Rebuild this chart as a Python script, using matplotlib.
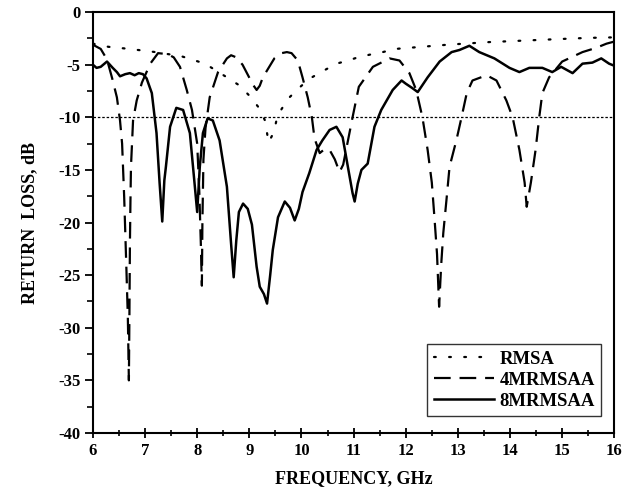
import numpy as np
import matplotlib
matplotlib.use("Agg")
import matplotlib.pyplot as plt

# RMSA (dotted)
rmsa_f = [6.0, 6.3, 6.7, 7.2, 7.7, 8.15, 8.57, 8.82, 9.03, 9.2, 9.3, 9.37, 9.47,
          9.52, 9.62, 9.77, 10.0, 10.2, 10.45, 10.67, 10.9, 11.08, 11.35, 11.56,
          11.8, 12.3, 12.8, 13.6, 14.3, 15.0, 15.5, 16.0]
rmsa_db = [-3.0, -3.3, -3.5, -3.8, -4.2, -4.9, -6.2, -7.0, -8.1, -9.2, -10.3, -12.4,
           -11.4, -10.3, -9.2, -8.1, -7.0, -6.2, -5.5, -4.9, -4.6, -4.3, -4.0, -3.8,
           -3.5, -3.3, -3.1, -2.85, -2.7, -2.55, -2.45, -2.4]

# 4MRMSAA (dashed)
m4_f = [6.0, 6.15, 6.27, 6.37, 6.46, 6.52, 6.56, 6.6, 6.64, 6.67, 6.69, 6.70, 6.71,
        6.72, 6.73, 6.77, 6.84, 6.94, 7.1, 7.25, 7.44, 7.55, 7.67, 7.8, 7.9, 8.0,
        8.04, 8.07, 8.09, 8.10, 8.12, 8.16, 8.24, 8.4, 8.57, 8.65, 8.75, 8.87, 9.07,
        9.14, 9.2, 9.26, 9.48, 9.62, 9.72, 9.81, 9.93, 10.02, 10.12, 10.2, 10.25,
        10.35, 10.45, 10.54, 10.64, 10.73, 10.8, 10.9, 10.98, 11.1, 11.37, 11.69,
        11.88, 12.07, 12.2, 12.32, 12.42, 12.5, 12.55, 12.6, 12.64, 12.68, 12.72,
        12.78, 12.84, 12.97, 13.07, 13.17, 13.28, 13.55, 13.74, 13.93, 14.05, 14.18,
        14.28, 14.32, 14.4, 14.49, 14.56, 14.62, 14.75, 15.0, 15.39, 15.65, 15.85, 16.0]
m4_db = [-3.1, -3.5, -4.5, -6.3, -8.1, -10.3, -12.5, -17.6, -24.0, -29.0, -35.0, -29.0,
         -22.0, -18.0, -14.7, -10.3, -8.4, -6.7, -4.9, -3.9, -4.0, -4.3, -5.2, -7.4,
         -9.3, -12.5, -17.0, -22.0, -26.0, -20.0, -14.0, -11.0, -8.1, -5.7, -4.4, -4.1,
         -4.3, -5.0, -6.9, -7.4, -7.0, -6.2, -4.4, -3.9, -3.8, -3.9, -4.6, -6.2, -8.1,
         -10.0, -12.0, -13.4, -13.0, -13.1, -14.0, -15.2, -14.5, -12.0, -10.0, -7.1,
         -5.2, -4.4, -4.6, -5.8, -7.4, -10.0, -13.1, -16.2, -19.5, -23.0, -28.0, -24.0,
         -21.0, -17.9, -14.7, -12.2, -10.0, -7.7, -6.5, -6.0, -6.5, -8.4, -10.0, -13.1,
         -16.2, -18.5, -16.2, -13.1, -10.0, -7.7, -6.2, -4.7, -3.8, -3.4, -3.0, -2.8]

# 8MRMSAA (solid)
m8_f = [6.0, 6.07, 6.15, 6.27, 6.38, 6.46, 6.52, 6.62, 6.71, 6.8, 6.88, 6.96, 7.03,
        7.13, 7.22, 7.28, 7.33, 7.37, 7.4, 7.48, 7.6, 7.73, 7.86, 7.95, 8.0, 8.05,
        8.11, 8.2, 8.3, 8.43, 8.57, 8.65, 8.7, 8.75, 8.8, 8.88, 8.97, 9.05, 9.14, 9.2,
        9.28, 9.34, 9.4, 9.45, 9.55, 9.68, 9.78, 9.87, 9.95, 10.02, 10.15, 10.29, 10.4,
        10.54, 10.67, 10.79, 10.89, 10.98, 11.02, 11.08, 11.15, 11.27, 11.4, 11.53,
        11.75, 11.92, 12.0, 12.12, 12.23, 12.42, 12.65, 12.88, 13.03, 13.22, 13.41,
        13.7, 13.99, 14.18, 14.37, 14.62, 14.81, 14.98, 15.2, 15.39, 15.58, 15.75,
        15.9, 16.0]
m8_db = [-5.0, -5.3, -5.2, -4.7, -5.3, -5.7, -6.1, -5.9, -5.8, -6.0, -5.8, -5.9, -6.3,
         -7.7, -11.5, -16.3, -19.9, -16.0, -14.7, -10.9, -9.1, -9.3, -11.5, -16.3,
         -19.0, -14.7, -11.5, -10.1, -10.3, -12.2, -16.6, -22.0, -25.2, -21.7, -19.0,
         -18.2, -18.7, -20.2, -24.2, -26.1, -26.8, -27.7, -25.0, -22.6, -19.5, -18.0,
         -18.6, -19.8, -18.7, -17.1, -15.3, -13.1, -12.2, -11.2, -10.9, -11.9, -14.7,
         -17.2, -18.0, -16.3, -15.0, -14.4, -10.9, -9.3, -7.4, -6.5, -6.8, -7.2, -7.6,
         -6.2, -4.7, -3.8, -3.6, -3.2, -3.8, -4.4, -5.3, -5.7, -5.3, -5.3, -5.7, -5.2,
         -5.8, -4.9, -4.8, -4.4, -4.9, -5.1]

ref_level = -10

plt.rcParams['font.family'] = ['Liberation Serif', 'DejaVu Serif']
plt.rcParams['font.weight'] = 'bold'
plt.rcParams['axes.unicode_minus'] = False

fig = plt.figure(figsize=(6.32, 4.94), dpi=100)
ax = fig.add_axes([0.147, 0.1235, 0.825, 0.852])

ax.plot(rmsa_f, rmsa_db, color='black', lw=1.6, linestyle=(0, (0.8, 6)),
        dash_capstyle='round', label='RMSA')
ax.plot(m4_f, m4_db, color='black', lw=1.6, linestyle=(0, (7.5, 4)), label='4MRMSAA')
ax.plot(m8_f, m8_db, color='black', lw=1.8, label='8MRMSAA')
ax.axhline(ref_level, color='black', lw=0.9, linestyle=(0, (2, 1.5)))

ax.set_xlim(6, 16)
ax.set_ylim(-40, 0)
ax.set_xticks(np.arange(6, 17, 1))
ax.set_xticks(np.arange(6, 16.01, 0.5), minor=True)
ax.set_yticks(np.arange(-40, 1, 5))
ax.set_yticks(np.arange(-40, 0.01, 2.5), minor=True)
ax.tick_params(axis='x', which='major', direction='inout', length=7, width=1.3,
               labelsize=12, pad=4)
ax.tick_params(axis='x', which='minor', direction='inout', length=5, width=1.2)
ax.tick_params(axis='y', which='major', direction='out', length=6, width=1.3,
               labelsize=12, pad=3)
ax.tick_params(axis='y', which='minor', direction='out', length=4, width=1.2)
for s in ax.spines.values():
    s.set_linewidth(1.5)

ax.set_xlabel('FREQUENCY, GHz', fontsize=13, fontweight='bold', labelpad=8)
ax.set_ylabel('RETURN  LOSS, dB', fontsize=13, fontweight='bold', labelpad=14)

leg = ax.legend(loc='lower right', bbox_to_anchor=(0.975, 0.04), fontsize=13.5,
                frameon=True, fancybox=False, edgecolor='black', handlelength=3.2,
                handletextpad=0.3, borderpad=0.35, labelspacing=0.2,
                borderaxespad=0)
leg.get_frame().set_linewidth(1.0)

fig.savefig('out.png', dpi=100)
